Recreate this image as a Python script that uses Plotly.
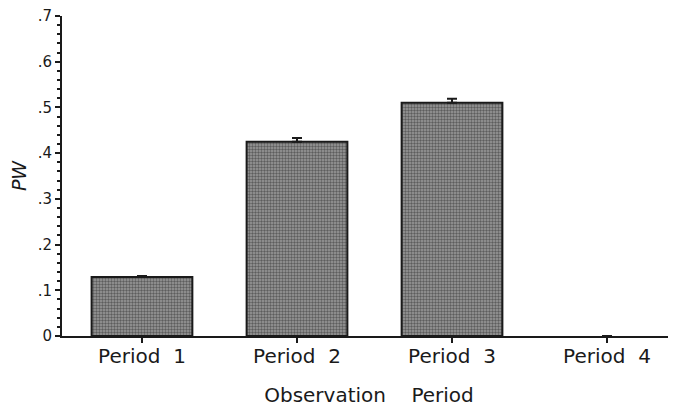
import plotly.graph_objects as go

categories = ["Period\u00a0\u00a01", "Period\u00a0\u00a02", "Period\u00a0\u00a03", "Period\u00a0\u00a04"]
pw_values = [0.129, 0.425, 0.510, 0.0]
pw_errors = [0.002, 0.008, 0.009, 0.0]
y_tickvals = [0, 0.1, 0.2, 0.3, 0.4, 0.5, 0.6, 0.7]
y_ticktext = ["0", ".1", ".2", ".3", ".4", ".5", ".6", ".7"]

x_pos = list(range(len(categories)))

fig = go.Figure()
fig.add_trace(go.Bar(
    x=x_pos, y=pw_values, width=0.65,
    marker=dict(color="#808080", line=dict(color="#1a1a1a", width=[2, 2, 2, 0]),
                pattern=dict(shape=".", fgcolor="#1e1e1e", bgcolor="#9c9c9c", size=3, solidity=0.5)),
    error_y=dict(type="data", array=pw_errors, symmetric=False, arrayminus=[0]*4,
                 color="#1a1a1a", thickness=2, width=5),
    showlegend=False,
))

fam = "DejaVu Sans, Verdana, sans-serif"
fig.update_layout(
    width=668, height=400,
    margin=dict(l=54, r=0, t=8, b=72),
    paper_bgcolor="white", plot_bgcolor="white",
    font=dict(family=fam, size=14, color="#1a1a1a"),
    xaxis=dict(
        range=[-0.516, 3.445], tickvals=x_pos, ticktext=categories,
        tickfont=dict(family=fam, size=20, color="#1a1a1a"),
        ticklabelstandoff=-4,
        showline=True, linecolor="#1a1a1a", linewidth=2,
        ticks="outside", ticklen=5, tickwidth=2, tickcolor="#1a1a1a",
        showgrid=False, zeroline=False, automargin=False,
        title=dict(text="Observation\u00a0\u00a0\u00a0\u00a0Period", standoff=21,
                   font=dict(family=fam, size=20, color="#1a1a1a")),
    ),
    yaxis=dict(
        range=[0, 0.7], tickvals=y_tickvals, ticktext=y_ticktext,
        tickfont=dict(family=fam, size=15, color="#1a1a1a"),
        ticklabeloverflow="allow",
        showline=True, linecolor="#1a1a1a", linewidth=2,
        ticks="outside", ticklen=5, tickwidth=2, tickcolor="#1a1a1a",
        minor=dict(dtick=0.02, ticks="outside", ticklen=3, tickwidth=2, tickcolor="#1a1a1a"),
        showgrid=False, zeroline=False, automargin=False,
        title=dict(text="<i>PW</i>", standoff=18,
                   font=dict(family=fam, size=19, color="#1a1a1a")),
    ),
)

fig.write_html("out.html")
